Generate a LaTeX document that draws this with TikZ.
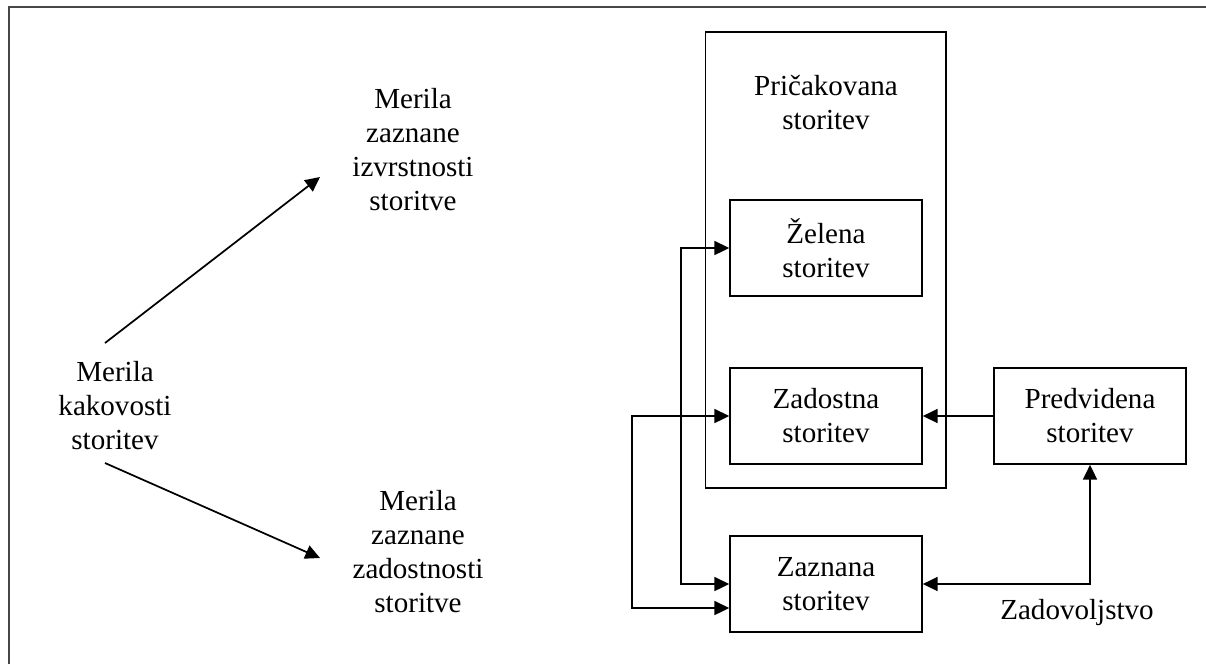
\documentclass[tikz,border=0pt]{standalone}
\usepackage{fontspec}
\setmainfont{Liberation Serif}
\usetikzlibrary{arrows.meta,calc}
\begin{document}
\begin{tikzpicture}[x=0.75pt,y=-0.75pt,
  txt/.style={align=center,inner sep=0pt,font=\fontsize{21.8}{25.5}\selectfont},
  box/.style={txt,draw,line width=1.3pt,minimum width=144pt,minimum height=72pt},
  arr/.style={line width=1.3pt,-{Triangle[length=11pt,width=10.5pt]}},
  both/.style={line width=1.3pt,{Triangle[length=11pt,width=10.5pt]}-{Triangle[length=11pt,width=10.5pt]}},
  frame/.style={draw=black!72,line width=1.3pt}]
\useasboundingbox (0,0) rectangle (1206,664);
\draw[frame] (8.8,664) -- (8.8,6.8) -- (1206,6.8);
% outer box
\draw[line width=1.3pt] (705.5,32) rectangle (946,488);
\node[txt] (prick) at (826,103) {Pričakovana\\storitev};
\node[box] (zel) at (826,248) {Želena\\storitev};
\node[box] (zad) at (826,416) {Zadostna\\storitev};
\node[box] (zaz) at (826,584) {Zaznana\\storitev};
\node[box] (pred) at (1090,416) {Predvidena\\storitev};
\node[txt] (kak) at (115,406) {Merila\\kakovosti\\storitev};
\node[txt] (izv) at (413,150) {Merila\\zaznane\\izvrstnosti\\storitve};
\node[txt] (zadn) at (418,552) {Merila\\zaznane\\zadostnosti\\storitve};
\node[txt] (zadov) at (1077,613) {Zadovoljstvo};
\coordinate (k1) at (105,343);
\coordinate (k2) at (105,463);
\coordinate (i1) at (320,177);
\coordinate (z1) at (320,558);
\draw[arr] (k1) -- (i1);
\draw[arr] (k2) -- (z1);
\draw[both] (zel.west) -- ++(-48,0) |- (zaz.west);
\draw[both] (zad.west) -- ++(-97,0) |- ($(zaz.west)+(0,24)$);
\draw[arr] (pred.west) -- (zad.east);
\draw[both] (zaz.east) -| (pred.south);
\end{tikzpicture}
\end{document}
